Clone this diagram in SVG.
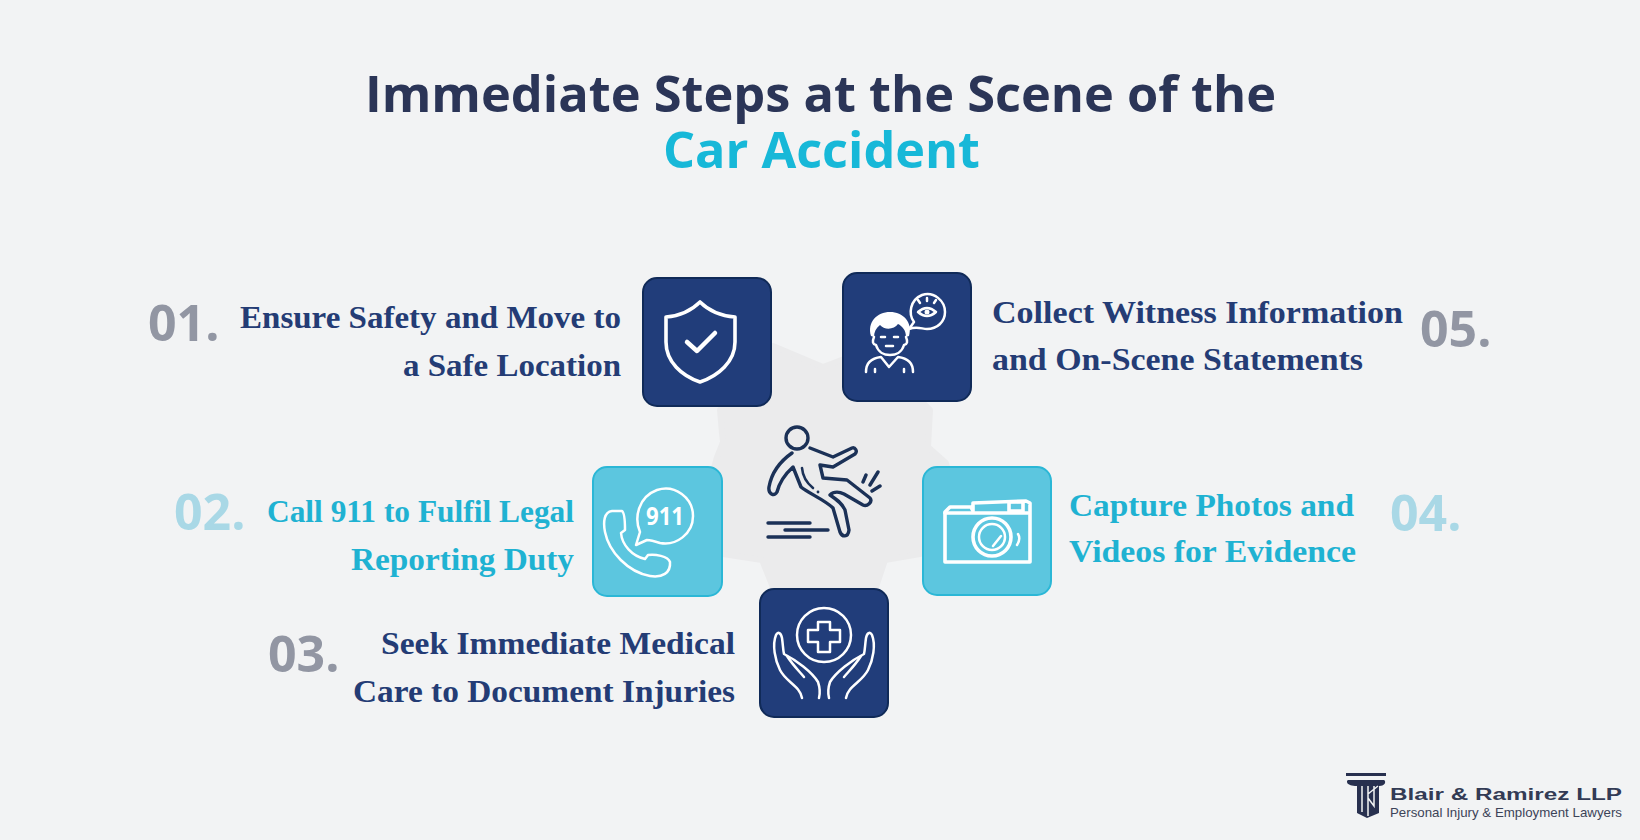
<svg xmlns="http://www.w3.org/2000/svg" width="1640" height="840" viewBox="0 0 1640 840">
<defs>
<style>
.title{font-family:"Open Sans","Liberation Sans",sans-serif;font-weight:700;font-size:50px}
.num{font-family:"Open Sans","Liberation Sans",sans-serif;font-weight:700;font-size:50px}
.lab{font-family:"Liberation Serif","DejaVu Serif",serif;font-weight:700;font-size:32px}
.navy{fill:#243c75}.cyan{fill:#1fb2d2}
.gr{fill:#9296a3}.lb{fill:#a9d8e6}
.bn{fill:#213d7a;stroke:#102a58;stroke-width:2}
.bc{fill:#5cc6df;stroke:#2bb7d6;stroke-width:2}
.ic{fill:none;stroke:#fff;stroke-width:3.6;stroke-linecap:round;stroke-linejoin:round}
.ic2{fill:none;stroke:#fff;stroke-width:2.5;stroke-linecap:round;stroke-linejoin:round}
.fa{fill:none;stroke:#1b3157;stroke-width:3.4;stroke-linecap:round;stroke-linejoin:round}
</style>
</defs>
<rect width="1640" height="840" fill="#f2f3f4"/>
<path id="gear" fill="#ebebec" stroke="#ebebec" stroke-width="6" stroke-linejoin="round" d="M720 410L773 346L823 367L868 350L930 410L928 447L946 463L958 510L920 554L885 560L875 590L774 590L762 560L723 554L702 510L717 457L723 442L722 433Z"/>
<g id="title">
<text class="title" x="365" y="112" textLength="911" lengthAdjust="spacingAndGlyphs" fill="#2b3557">Immediate Steps at the Scene of the</text>
<text class="title" x="663" y="168" textLength="317" lengthAdjust="spacingAndGlyphs" fill="#17b8d8">Car Accident</text>
</g>
<g id="connectors"></g>
<g id="step1">
<text class="num gr" x="148" y="341">01.</text>
<text class="lab navy" x="240" y="328" textLength="381" lengthAdjust="spacingAndGlyphs">Ensure Safety and Move to</text>
<text class="lab navy" x="403" y="376" textLength="218" lengthAdjust="spacingAndGlyphs">a Safe Location</text>
<rect class="bn" x="643" y="278" width="128" height="128" rx="14"/>
<path class="ic" d="M700 302C690 312 678 316 666 317V342C666 362 682 376 700 382C718 376 735 362 735 342V317C722 316 710 312 700 302Z"/>
<path class="ic" style="stroke-width:4.5" d="M687 342L697 351L715 333"/>
</g>
<g id="step2">
<text class="num lb" x="174" y="530">02.</text>
<text class="lab cyan" x="267" y="522" textLength="307" lengthAdjust="spacingAndGlyphs">Call 911 to Fulfil Legal</text>
<text class="lab cyan" x="351" y="570" textLength="223" lengthAdjust="spacingAndGlyphs">Reporting Duty</text>
<rect class="bc" x="593" y="467" width="129" height="129" rx="14"/>
<path class="ic2" d="M640 532C634 518 638 497 657 490C675 484 693 498 693 516C693 534 676 546 660 543C654 541 650 540 647 540L636 545Z"/>
<path class="ic2" d="M612 511C604 512 603 522 605 532C609 552 628 572 650 576C662 578 671 573 670 562C668 556 655 554 648 555L645 559C632 556 622 545 621 533L625 530C625 524 625 513 622 511Z"/>
<text x="665" y="525" text-anchor="middle" font-family="'Open Sans',sans-serif" font-weight="700" font-size="25" fill="#fff" textLength="38" lengthAdjust="spacingAndGlyphs">911</text>
</g>
<g id="step3">
<text class="num gr" x="268" y="672">03.</text>
<text class="lab navy" x="381" y="654" textLength="354" lengthAdjust="spacingAndGlyphs">Seek Immediate Medical</text>
<text class="lab navy" x="353" y="702" textLength="382" lengthAdjust="spacingAndGlyphs">Care to Document Injuries</text>
<rect class="bn" x="760" y="589" width="128" height="128" rx="14"/>
<circle class="ic2" cx="824" cy="635" r="27"/>
<path class="ic2" d="M818 622H830V630H840V642H830V652H818V642H808V630H818Z"/>
<path class="ic2" d="M802 698C800 686 786 682 780 670C775 660 772 645 776 635C778 631 781 633 782 638C783 645 783 650 784 654C796 660 812 672 818 682C820 688 820 694 819 698"/>
<path class="ic2" d="M787 656C792 664 798 670 804 677"/>
<path class="ic2" d="M846 698C848 686 862 682 868 670C873 660 876 645 872 635C870 631 867 633 866 638C865 645 865 650 864 654C852 660 836 672 830 682C828 688 828 694 829 698"/>
<path class="ic2" d="M861 656C856 664 850 670 844 677"/>
</g>
<g id="step4">
<text class="num lb" x="1390" y="531">04.</text>
<text class="lab cyan" x="1069" y="516" textLength="285" lengthAdjust="spacingAndGlyphs">Capture Photos and</text>
<text class="lab cyan" x="1069" y="562" textLength="287" lengthAdjust="spacingAndGlyphs">Videos for Evidence</text>
<rect class="bc" x="923" y="467" width="128" height="128" rx="14"/>
<path class="ic" d="M945 562V512L950 507H971L973 511V503L1026 501L1030 503V562Z"/>
<path class="ic" d="M945 513H1028M1009 502H1023V511H1009Z"/>
<circle class="ic" cx="992" cy="537" r="19"/>
<circle class="ic2" cx="992" cy="537" r="13"/>
<path class="ic2" d="M993 546L1001 536M1018 534Q1021 539 1017 545"/>
</g>
<g id="step5">
<text class="num gr" x="1420" y="347">05.</text>
<text class="lab navy" x="992" y="323" textLength="411" lengthAdjust="spacingAndGlyphs">Collect Witness Information</text>
<text class="lab navy" x="992" y="370" textLength="371" lengthAdjust="spacingAndGlyphs">and On-Scene Statements</text>
<rect class="bn" x="843" y="273" width="128" height="128" rx="14"/>
<path class="ic2" d="M909 329L914 322C908 314 910 300 922 295C934 291 945 301 945 312C945 322 937 329 927 329C922 329 917 326 909 329Z"/>
<path class="ic2" d="M918 312Q927 304 936 312Q927 320 918 312Z"/>
<circle cx="927" cy="312" r="2.5" fill="#fff"/>
<path class="ic2" d="M920 303L918 300M927 301V298M934 303L936 300"/>
<path d="M871 336C867 322 877 312 890 312C903 312 913 322 909 336L906 337C906 330 902 326 898 324C894 330 884 330 880 325C876 328 874 332 874 337Z" fill="#fff"/>
<path class="ic2" d="M874 337Q871 344 876 345M906 337Q909 344 904 345M876 345C878 352 884 355 890 355C896 355 902 352 904 345"/>
<path class="ic2" d="M881 337H885M894 337H898M886 346H893"/>
<path class="ic2" d="M866 372C866 362 872 358 881 357L889 367L898 357C907 358 913 362 913 372M875 372V369M904 372V369"/>
</g>
<g id="center">
<circle class="fa" cx="797" cy="438" r="11"/>
<path class="fa" d="M792 453C782 460 772 470 769 487C768 494 774 497 777 492C779 484 783 476 793 467L801 487C808 493 825 500 833 508L840 532C842 537 848 538 849 530L845 510C842 503 836 499 830 495C834 491 840 492 844 494L863 505C867 507 873 502 870 498L847 480L823 478L820 465L833 467L855 454C858 451 855 447 852 448L833 457L810 448"/>
<path class="fa" style="stroke-width:2.6" d="M802 468Q803 480 813 488"/>
<circle cx="818" cy="492" r="1.4" fill="#1b3157"/>
<path class="fa" d="M768 523H810M785 530H828M768 537H810M863 482L866 475M870 485L878 472M872 491L880 486"/>
</g>
<g id="logo">
<path fill="#28304f" d="M1346 773H1386V776H1346ZM1348 780H1384C1386 781 1386 786 1379 786V813L1367 818L1357 813V786C1346 786 1346 781 1348 780Z"/>
<path stroke="#f2f3f4" stroke-width="1.5" fill="none" d="M1362 786V812M1368 786V816M1374 786V806L1368 798M1368 794L1378 786"/>
<text x="1390" y="800" font-family="'Liberation Sans',sans-serif" font-weight="700" font-size="16" fill="#333b55" textLength="232" lengthAdjust="spacingAndGlyphs">Blair &amp; Ramirez LLP</text>
<text x="1390" y="817" font-family="'Liberation Sans',sans-serif" font-size="13" fill="#3c4358" textLength="232" lengthAdjust="spacingAndGlyphs">Personal Injury &amp; Employment Lawyers</text>
</g>
</svg>
